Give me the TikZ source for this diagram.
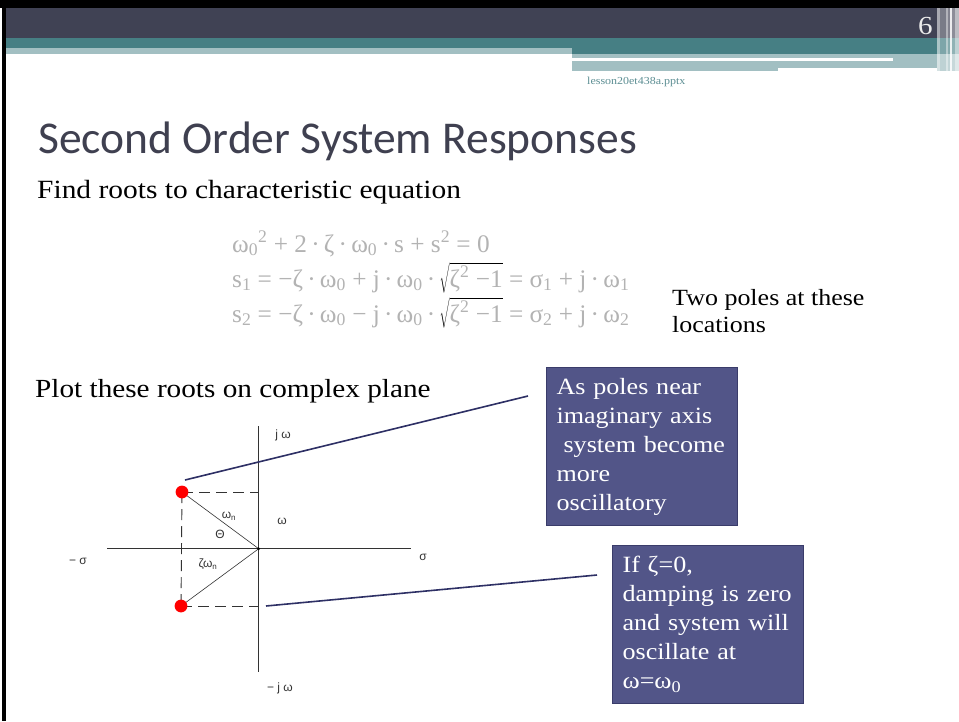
\documentclass[tikz,border=0pt]{standalone}
\usepackage{fontspec}
\setmainfont{Liberation Serif}[FakeStretch=1.12]
\newfontfamily\titlefont{Carlito}
\newfontfamily\eqfont{Liberation Serif}
\newfontfamily\plotfont{Liberation Sans}
\usetikzlibrary{positioning}

\definecolor{bandDark}{HTML}{404254}
\definecolor{bandTeal}{HTML}{467F84}
\definecolor{bandLight}{HTML}{A2BFC2}
\definecolor{titleGray}{HTML}{3F4050}
\definecolor{fileTeal}{HTML}{5C8E93}
\definecolor{eqGray}{HTML}{B3B3B3}
\definecolor{boxFill}{HTML}{525588}
\definecolor{boxEdge}{HTML}{3A3C6A}
\definecolor{calloutLine}{HTML}{2E3065}
\definecolor{axisGray}{HTML}{333333}

\newcommand{\rootof}[1]{\textcolor{black}{$\sqrt{\rule[-3pt]{0pt}{23pt}\mbox{\textcolor{eqGray}{#1}}}$}}
\newcommand{\dt}{\,·\,}

\tikzset{
  notebox/.style={draw=boxEdge, line width=1.2pt, fill=boxFill, text=white,
    anchor=north west, align=left, inner xsep=10pt, text width=171pt,
    minimum height=158pt, font=\fontsize{23.3}{29}\selectfont},
  callout/.style={draw=calloutLine, line width=1.6pt},
  axisline/.style={draw=axisGray, line width=0.9pt},
  guide/.style={draw=axisGray, line width=0.9pt, dash pattern=on 11pt off 6pt},
  plotlabel/.style={font=\plotfont\fontsize{12}{14}\selectfont, text=axisGray, inner sep=1pt},
  bodytext/.style={anchor=west, inner sep=0pt},
  eqline/.style={anchor=base west, inner sep=0pt, text=eqGray, font=\eqfont\fontsize{25.3}{30}\selectfont},
}

\begin{document}
\begin{tikzpicture}[x=1pt,y=-1pt]
  \useasboundingbox (0,0) rectangle (959,721);
  \fill[white] (0,0) rectangle (959,721);
  % header bands
  \fill[bandDark] (6,8) rectangle (959,38);
  \fill[bandTeal] (6,37.5) rectangle (572,48);
  \fill[bandLight] (6,48) rectangle (572,54);
  \fill[bandTeal] (572,37.5) rectangle (959,54);
  \fill[bandLight] (572,54) rectangle (778,71);
  \fill[bandLight] (778,54) rectangle (946,68);
  \fill[bandLight] (937,54) rectangle (959,71);
  \fill[white] (572,58) rectangle (893,61);
  \foreach \xa/\xb/\op in {937/939.5/0.55, 939.5/945.5/0.3, 945.5/947.5/0.6,
      947.5/950/0.35, 950/952/0.9, 952/954.5/0.4, 954.5/959/0.65}
    \fill[white, opacity=\op] (\xa,8) rectangle (\xb,71);
  \fill[black] (0,0) rectangle (959,8);
  \fill[black] (2,0) rectangle (6,721);
  \node[text=white!92!black, font=\fontsize{26}{28}\selectfont, inner sep=0pt] (pagenum) at (925.5,26) {6};
  \node[text=fileTeal, font=\fontsize{10.7}{12}\selectfont, bodytext] (filename) at (587,82) {lesson20et438a.pptx};

  % texts
  \node[bodytext, text=titleGray, font=\titlefont\fontsize{45.5}{50}\selectfont] (title) at (38,141) {Second Order System Responses};
  \node[bodytext, font=\fontsize{26.3}{30}\selectfont] (findroots) at (37,192) {Find roots to characteristic equation};
  \node[eqline] (eqA) at (232,252) {ω\textsubscript{0}\textsuperscript{2} + 2\dt ζ\dt ω\textsubscript{0}\dt s + s\textsuperscript{2} = 0};
  \node[eqline] (eqB) at (232,287) {s\textsubscript{1} = −ζ\dt ω\textsubscript{0} + j\dt ω\textsubscript{0}\dt \rootof{ζ\textsuperscript{2} −1} = σ\textsubscript{1} + j\dt ω\textsubscript{1}};
  \node[eqline] (eqC) at (232,322) {s\textsubscript{2} = −ζ\dt ω\textsubscript{0} − j\dt ω\textsubscript{0}\dt \rootof{ζ\textsuperscript{2} −1} = σ\textsubscript{2} + j\dt ω\textsubscript{2}};
  \node[bodytext, align=left, font=\fontsize{23.2}{27}\selectfont, anchor=north west] (polesnote) at (672,289) {Two poles at these\\locations};
  \node[bodytext, font=\fontsize{26.1}{30}\selectfont] (plotnote) at (35,391) {Plot these roots on complex plane};

  % pole diagram
  \coordinate (O) at (258.7,548.7);
  \coordinate (sigL) at (107,548.7);
  \coordinate (sigR) at (411,548.7);
  \coordinate (jwT) at (258.7,426);
  \coordinate (jwB) at (258.7,672);
  \coordinate (p1) at (182,492);
  \coordinate (p2) at (181,606);
  \draw[axisline] (sigL) -- (sigR);
  \draw[axisline] (jwT) -- (jwB);
  \draw[guide] (p1) -- (p1 -| O);
  \draw[guide] (p2) -- (p2 -| O);
  \draw[guide] (p1) -- (p2);
  \draw[axisGray, line width=0.6pt] (p1) -- (O) -- (p2);
  \fill[black] (O) circle (1.5pt);
  \fill[red] (p1) circle (6.4pt);
  \fill[red] (p2) circle (6.4pt);
  \node[plotlabel] (lblJw) at (283,435) {j ω};
  \node[plotlabel] (lblMinusJw) at (280,688) {− j ω};
  \node[plotlabel] (lblSigma) at (423,557) {σ};
  \node[plotlabel] (lblMinusSigma) at (78,561) {− σ};
  \node[plotlabel] (lblOmega) at (282,521) {ω};
  \node[plotlabel] (lblOmegaN) at (229,516) {ω\textsubscript{n}};
  \node[plotlabel] (lblTheta) at (220,534) {Θ};
  \node[plotlabel] (lblZetaOmegaN) at (208,564) {ζω\textsubscript{n}};

  % callouts
  \node[notebox] (boxNear) at (546,367) {As poles near\\imaginary axis\\\hspace*{0.3em}system become\\more\\oscillatory};
  \node[notebox] (boxZero) at (612,545) {If ζ=0,\\damping is zero\\and system will\\oscillate at\\ω=ω\textsubscript{0}};
  \coordinate (tailNear) at (185,480);
  \coordinate (tipNear) at (528,396);
  \coordinate (tailZero) at (266,606);
  \coordinate (tipZero) at (597,575);
  \draw[callout] (tailNear) -- (tipNear);
  \draw[callout] (tailZero) -- (tipZero);
\end{tikzpicture}
\end{document}
